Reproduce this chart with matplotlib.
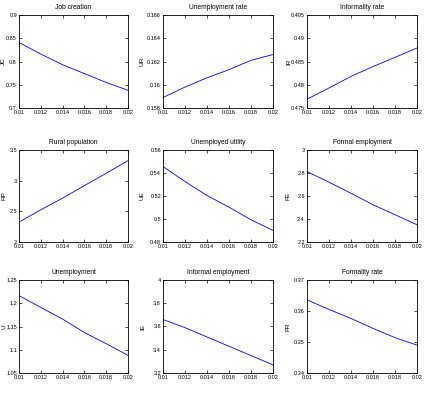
import numpy as np
import matplotlib.pyplot as plt

plt.rcParams['font.family'] = ['Liberation Sans Narrow', 'Liberation Sans', 'DejaVu Sans']

x = [0.010, 0.012, 0.014, 0.016, 0.018, 0.020]

titles = ['Job creation', 'Unemployment rate', 'Informality rate',
          'Rural population', 'Unemployed utility', 'Formal employment',
          'Unemployment', 'Informal employment', 'Formality rate']
ylabels = ['JC', 'UR', 'IR', 'RP', 'UE', 'FE', 'U', 'IE', 'FR']

jc = [0.841, 0.816, 0.793, 0.774, 0.755, 0.738]
ur = [0.1589, 0.1598, 0.1606, 0.1613, 0.1621, 0.1626]
ir = [0.4769, 0.4793, 0.4818, 0.4839, 0.4859, 0.4879]
rp = [2.325, 2.525, 2.715, 2.92, 3.12, 3.327]
ue = [0.5456, 0.5326, 0.5204, 0.5103, 0.4993, 0.4901]
fe = [2.812, 2.72, 2.624, 2.524, 2.437, 2.35]
u = [1.2164, 1.191, 1.166, 1.137, 1.113, 1.088]
ie = [3.66, 3.59, 3.51, 3.43, 3.35, 3.27]
fr = [0.3636, 0.3605, 0.3576, 0.3544, 0.3514, 0.349]
series = [jc, ur, ir, rp, ue, fe, u, ie, fr]

ylims = [(0.7, 0.9), (0.158, 0.166), (0.475, 0.495),
         (2, 3.5), (0.48, 0.56), (2.2, 3),
         (1.05, 1.25), (3.2, 4), (0.34, 0.37)]
yticks = [[0.7, 0.75, 0.8, 0.85, 0.9],
          [0.158, 0.16, 0.162, 0.164, 0.166],
          [0.475, 0.48, 0.485, 0.49, 0.495],
          [2, 2.5, 3, 3.5],
          [0.48, 0.5, 0.52, 0.54, 0.56],
          [2.2, 2.4, 2.6, 2.8, 3],
          [1.05, 1.1, 1.15, 1.2, 1.25],
          [3.2, 3.4, 3.6, 3.8, 4],
          [0.34, 0.35, 0.36, 0.37]]
xticks = [0.01, 0.012, 0.014, 0.016, 0.018, 0.02]

W, H = 425, 395
fig = plt.figure(figsize=(W / 100, H / 100), dpi=100)
lefts = [19, 163, 307]
widths = [109, 110, 110]
tops = [15, 150, 280]
heights = [93, 92, 93]
# x position of the rotated y label, in pixels
ylab_x = [6, 145, 291]

def fmt(v):
    return ('%.4f' % v).rstrip('0').rstrip('.')

for i in range(9):
    r, c = divmod(i, 3)
    ax = fig.add_axes([lefts[c] / W, 1 - (tops[r] + heights[r]) / H,
                       widths[c] / W, heights[r] / H])
    ax.plot(x, series[i], color='#0000ff', lw=0.6)
    ax.set_xlim(0.01, 0.02)
    ax.set_ylim(*ylims[i])
    ax.set_xticks(xticks)
    ax.set_xticklabels([fmt(t) for t in xticks])
    ax.set_yticks(yticks[i])
    ax.set_yticklabels([fmt(t) for t in yticks[i]])
    ax.tick_params(direction='in', top=True, right=True, labelsize=4.0,
                   length=2, width=0.5, pad=1.5)
    ax.set_title(titles[i], fontsize=4.8, pad=4)
    ax.set_ylabel(ylabels[i], fontsize=4.6)
    ax.yaxis.set_label_coords((ylab_x[c] - lefts[c]) / widths[c], 0.5)
    for sp in ax.spines.values():
        sp.set_linewidth(0.6)

fig.savefig('out.png', dpi=100)
